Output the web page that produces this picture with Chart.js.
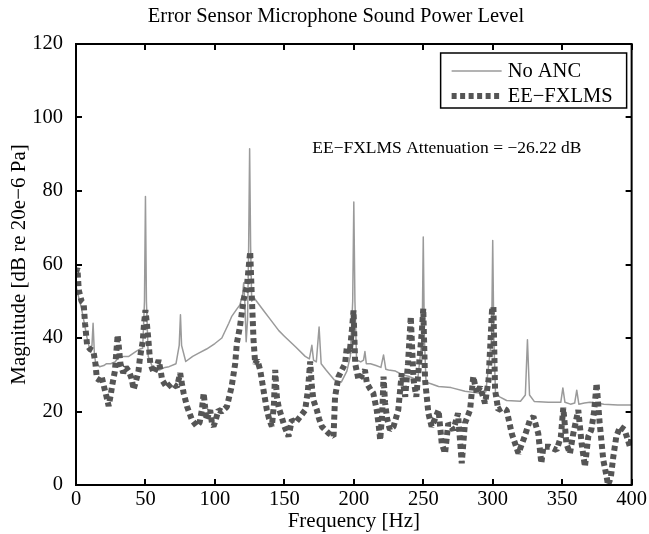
<!DOCTYPE html>
<html lang="en">
<head>
<meta charset="UTF-8">
<title>Error Sensor Microphone Sound Power Level</title>
<script src="https://cdn.jsdelivr.net/npm/chart.js"></script>
<style>
  body { margin: 0; background: #fff; }
</style>
</head>
<body>
<canvas id="spl" width="649" height="534"></canvas>
<script>
// No ANC spectrum (thin gray line)
const noAncFreq = [0, 2, 4, 6, 8, 10, 11.5, 12.3, 13.2, 14, 17, 20, 22, 25, 28, 31, 35, 38, 43, 46, 48, 49.3, 50, 50.7, 52, 55, 60, 64, 67, 72, 74.3, 75.2, 76, 79, 84, 88, 94, 100, 105, 110, 112, 116, 118, 120, 120.7, 121.5, 122.5, 123.5, 124.3, 125, 125.7, 126.5, 128, 130, 135, 140, 146, 150, 158, 165, 168, 169.8, 171, 173, 175, 176.5, 180, 186, 191, 195, 197.5, 199.2, 200, 200.8, 202, 205, 207, 208, 209, 212, 216, 219.5, 221.4, 223, 225, 230, 235, 240, 246, 249.2, 250, 250.8, 252, 256, 261, 270, 280, 290, 295, 299.2, 300, 300.8, 302, 305, 310, 320, 323.5, 325, 326.5, 330, 340, 349, 350.5, 352, 356, 359, 360.5, 362, 366, 370, 375, 380, 390, 400];
const noAncMag  = [54, 51, 48, 44, 40, 36.7, 38, 44, 36, 33.5, 32.2, 32.5, 33, 33, 33.5, 34.8, 35, 35, 36.3, 37, 37.2, 50, 78.5, 50, 35, 32.2, 31.3, 32, 32.2, 33, 38, 46.3, 38, 33.6, 35, 35.8, 37, 38.5, 40, 44, 45.8, 48, 49, 52, 55, 50, 39, 45, 65, 91.5, 65, 50, 51, 50, 47.5, 45, 42, 40.5, 37.6, 35, 34.3, 38, 34, 33.5, 43, 33, 31.3, 28.6, 28, 31, 35, 50, 77, 50, 34, 33.5, 34, 36.3, 33, 33, 32.5, 32, 35.4, 31.5, 31.3, 31, 30, 29.5, 28.6, 40, 67.5, 40, 28, 27.5, 26.8, 26.5, 25.5, 25, 25.3, 40, 66.5, 40, 25, 24, 23, 22.8, 24.5, 39.5, 24.5, 22.7, 22.5, 22.5, 26.4, 22.5, 22, 22.3, 25.8, 22, 22.3, 22.5, 22.3, 22, 21.8, 21.8];

// EE-FXLMS spectrum (thick dotted line)
const fxlmsFreq = [0, 1, 2, 4, 5.5, 6.5, 8, 10, 12.5, 14, 15, 17, 18.5, 20, 22, 23.5, 25, 26, 28, 29, 30, 31, 32, 34, 36, 38, 40, 41.5, 43, 45, 46, 48, 49, 50, 51, 52, 53.5, 56, 58, 59.5, 61, 62, 65.5, 69, 72.7, 75, 76, 77.5, 80, 83.5, 87, 89, 90.6, 91.9, 93, 94, 96.6, 98, 99, 100, 102.6, 105, 108.6, 112, 114.6, 115.8, 118, 120.6, 123, 125.4, 126.6, 127.8, 129, 130.5, 132.6, 135, 137.4, 139, 141, 142.5, 143.4, 144.6, 146, 148, 150, 153, 155.4, 158, 161.4, 165, 167, 168.6, 169.8, 171, 173.4, 175, 177, 181.8, 185.4, 186.5, 189, 191, 193.7, 195, 197, 198.6, 199.8, 201, 203.4, 206, 208, 209.4, 212, 214, 216.5, 218, 219, 220.5, 221.4, 222.5, 224, 226, 228.6, 232, 234.5, 237, 239, 241, 243, 245, 247, 249, 250, 251.3, 253.7, 256, 258.5, 261, 263.3, 265.7, 268, 271.7, 275, 277.7, 280, 283.7, 286, 288.5, 290.9, 294.5, 297, 298.5, 299.5, 300.5, 301.7, 304, 307, 310, 313.7, 318.5, 323, 326.8, 329.3, 332.8, 335, 336.5, 341, 346, 349, 350.8, 352, 353, 355.6, 358, 361.6, 364, 366.4, 368.8, 371, 373, 374.8, 377, 379.6, 382, 383, 385, 386.8, 389, 391.7, 395, 398.8, 400];
const fxlmsMag  = [58, 59, 53, 50, 49.5, 44, 38, 37, 36.5, 33, 29, 28.5, 29.5, 27, 24, 21.5, 24.5, 27, 31, 36, 40.8, 37, 33, 30.5, 32, 31, 29, 26, 28, 31, 34.5, 39, 44, 47.6, 44, 40, 33, 30.5, 32, 34, 31, 28.6, 26.5, 27.7, 26.7, 30.4, 28, 25, 21.3, 17.7, 16, 17, 20.4, 25, 21, 17.7, 20.4, 16.5, 16, 17, 20.4, 20, 21.3, 26.7, 33, 38.6, 43, 50.3, 54, 63.5, 51, 39.5, 33, 34, 31.3, 25.8, 20.4, 18, 15.9, 22, 31.3, 24, 21, 18.6, 16, 13.2, 17.7, 17, 18.6, 20.4, 26, 33.6, 26.7, 23, 20.4, 18, 15.9, 14.1, 13.2, 24, 29.5, 31, 33, 37.6, 36, 42, 47.5, 33, 28.6, 30, 31.3, 27.7, 26, 25, 20.4, 16, 12.2, 20, 29.5, 22.3, 18, 15, 15.9, 20.4, 30.4, 24, 33, 45.8, 28.6, 24, 33, 42, 48, 28.6, 19.5, 15.9, 18, 20.4, 11.3, 8.6, 16.8, 15, 19.5, 5.9, 16.8, 20.4, 29.5, 25, 26.7, 22.2, 28.6, 40, 47.6, 48.5, 25.8, 20.4, 21, 20.4, 14, 8.6, 13.2, 17.7, 18.6, 14, 5.9, 10.4, 10.4, 9.5, 13, 21, 16, 11.3, 8.6, 14, 20.4, 11.3, 5, 13.2, 15, 20, 27.7, 16.8, 6.8, 2.3, 0, 2, 7.7, 13.2, 15.9, 15, 10.4, 13];

const xTicks = [0, 50, 100, 150, 200, 250, 300, 350, 400];
const yTicks = [0, 20, 40, 60, 80, 100, 120];
const seriesNames = ['No ANC', 'EE\u2212FXLMS'];
const titleText = 'Error Sensor Microphone Sound Power Level';
const noteText = 'EE\u2212FXLMS Attenuation = \u221226.22 dB';
const notePos = { x: 267, y: 91.5 };

const serif = "'Liberation Serif', 'Times New Roman', serif";
const grayColor = '#9a9a9a';
const dotColor = '#555555';

// title, frame with inward ticks, legend box and attenuation note
const boxPlugin = {
    id: 'boxPlugin',
    afterDatasetsDraw(chart) {
        const { ctx, chartArea: a, scales: { x, y } } = chart;
        ctx.save();

        ctx.fillStyle = '#000';
        ctx.font = '20.5px ' + serif;
        ctx.textAlign = 'center';
        ctx.textBaseline = 'middle';
        ctx.fillText(titleText, 336, 17);

        ctx.strokeStyle = '#000';
        ctx.lineWidth = 2;
        ctx.strokeRect(a.left, a.top, a.right - a.left, a.bottom - a.top);
        ctx.beginPath();
        xTicks.forEach(v => {
            const px = Math.round(x.getPixelForValue(v));
            ctx.moveTo(px, a.bottom); ctx.lineTo(px, a.bottom - 6);
            ctx.moveTo(px, a.top); ctx.lineTo(px, a.top + 6);
        });
        yTicks.forEach(v => {
            const py = Math.round(y.getPixelForValue(v));
            ctx.moveTo(a.left, py); ctx.lineTo(a.left + 6, py);
            ctx.moveTo(a.right, py); ctx.lineTo(a.right - 6, py);
        });
        ctx.stroke();

        // attenuation note
        ctx.font = '17.5px ' + serif;
        ctx.fillText(noteText, x.getPixelForValue(notePos.x), y.getPixelForValue(notePos.y));

        // legend
        const bl = a.right - 191, bt = a.top + 9, bw = 186, bh = 55;
        ctx.fillStyle = '#fff';
        ctx.fillRect(bl, bt, bw, bh);
        ctx.lineWidth = 1.5;
        ctx.strokeRect(bl, bt, bw, bh);
        const rows = [bt + 18, bt + 43];
        chart.data.datasets.forEach((ds, i) => {
            ctx.save();
            ctx.strokeStyle = ds.borderColor;
            ctx.lineWidth = ds.borderWidth;
            ctx.setLineDash(ds.borderDash || []);
            ctx.beginPath();
            ctx.moveTo(bl + 11, rows[i]);
            ctx.lineTo(bl + 61, rows[i]);
            ctx.stroke();
            ctx.restore();
            ctx.fillStyle = '#000';
            ctx.font = '20.5px ' + serif;
            ctx.textAlign = 'left';
            ctx.fillText(ds.label, bl + 67, rows[i] + 1);
        });
        ctx.restore();
    }
};

new Chart(document.getElementById('spl'), {
    type: 'line',
    data: {
        datasets: [
            {
                label: seriesNames[0],
                data: noAncFreq.map((f, i) => ({ x: f, y: noAncMag[i] })),
                borderColor: grayColor,
                borderWidth: 1.5,
                borderJoinStyle: 'round',
                pointRadius: 0,
                tension: 0,
                order: 1
            },
            {
                label: seriesNames[1],
                data: fxlmsFreq.map((f, i) => ({ x: f, y: fxlmsMag[i] })),
                borderColor: dotColor,
                borderWidth: 6,
                borderDash: [5, 3.5],
                borderCapStyle: 'butt',
                borderJoinStyle: 'bevel',
                pointRadius: 0,
                tension: 0,
                order: 0
            }
        ]
    },
    options: {
        responsive: false,
        animation: false,
        layout: { padding: { left: 0, right: 17, top: 44, bottom: 0 } },
        plugins: {
            legend: { display: false },
            tooltip: { enabled: false },
            title: { display: false }
        },
        scales: {
            x: {
                type: 'linear',
                min: 0,
                max: 400,
                grid: { display: false, drawTicks: false },
                border: { display: false },
                afterBuildTicks: s => { s.ticks = xTicks.map(v => ({ value: v })); },
                afterFit: s => { s.height = 49; },
                ticks: { color: '#000', font: { family: serif, size: 20.5 }, padding: 2, maxRotation: 0 },
                title: {
                    display: true,
                    text: 'Frequency [Hz]',
                    color: '#000',
                    font: { family: serif, size: 21 },
                    padding: { top: 0, bottom: 0 }
                }
            },
            y: {
                min: 0,
                max: 120,
                grid: { display: false, drawTicks: false },
                border: { display: false },
                afterBuildTicks: s => { s.ticks = yTicks.map(v => ({ value: v })); },
                afterFit: s => { s.width = 76; },
                ticks: { color: '#000', font: { family: serif, size: 20.5 }, padding: 13 },
                title: {
                    display: true,
                    text: 'Magnitude [dB re 20e\u22126 Pa]',
                    color: '#000',
                    font: { family: serif, size: 21 },
                    padding: { top: 7, bottom: 0 }
                }
            }
        }
    },
    plugins: [boxPlugin]
});
</script>
</body>
</html>
